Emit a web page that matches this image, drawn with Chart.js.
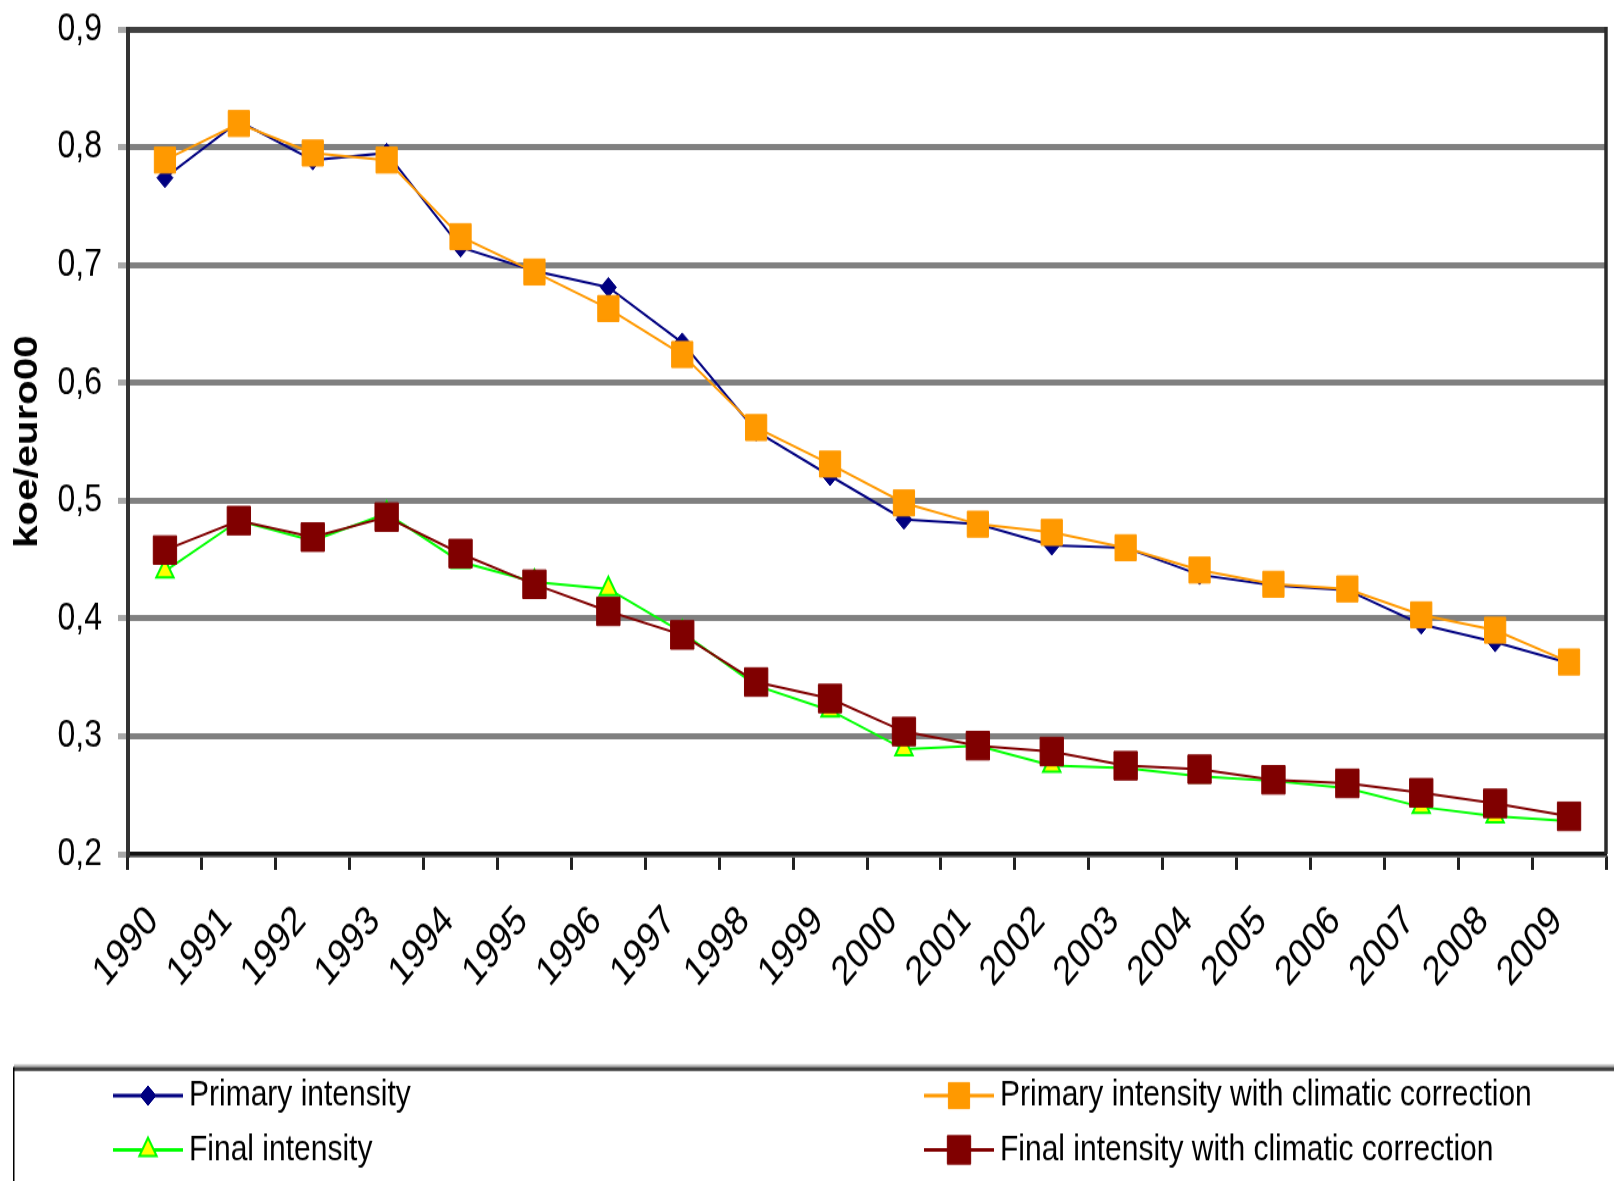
<!DOCTYPE html>
<html lang="en">
<head>
<meta charset="utf-8">
<title>Energy intensity</title>
<script src="https://cdn.jsdelivr.net/npm/chart.js@4/dist/chart.umd.min.js"></script>
<style>
  html, body { margin: 0; padding: 0; background: #fff; overflow: hidden; }
  #chart { display: block; }
</style>
</head>
<body>
<canvas id="chart" width="1614" height="968"></canvas>
<script>
// Dados (koe/euro00)
const anos = ['1990', '1991', '1992', '1993', '1994', '1995', '1996', '1997', '1998', '1999',
              '2000', '2001', '2002', '2003', '2004', '2005', '2006', '2007', '2008', '2009'];

const primaria = [0.774, 0.822, 0.789, 0.795, 0.715, 0.695, 0.681, 0.634, 0.559, 0.521,
                  0.484, 0.480, 0.462, 0.460, 0.437, 0.428, 0.424, 0.395, 0.380, 0.362];

const primariaCorrigida = [0.789, 0.820, 0.795, 0.789, 0.724, 0.694, 0.663, 0.624, 0.562, 0.531,
                           0.498, 0.480, 0.473, 0.460, 0.441, 0.429, 0.425, 0.403, 0.390, 0.363];

const final = [0.440, 0.483, 0.466, 0.489, 0.448, 0.431, 0.425, 0.388, 0.343, 0.322,
               0.289, 0.292, 0.275, 0.273, 0.266, 0.262, 0.256, 0.240, 0.232, 0.228];

const finalCorrigida = [0.458, 0.483, 0.469, 0.486, 0.455, 0.429, 0.406, 0.386, 0.346, 0.332,
                        0.304, 0.292, 0.287, 0.275, 0.272, 0.263, 0.260, 0.252, 0.243, 0.232];

const rotulosY = ['0,2', '0,3', '0,4', '0,5', '0,6', '0,7', '0,8', '0,9'];

const nomes = [
    'Primary intensity',
    'Primary intensity with climatic correction',
    'Final intensity',
    'Final intensity with climatic correction'
];

// O original é esticado na vertical: desenha mais baixo e estica via CSS
const ALTURA_FINAL = 1181;
const fonte = "'Liberation Sans', Arial, sans-serif";

// Moldura da direita + legenda em duas colunas
const molduraLegenda = {
    id: 'molduraLegenda',
    afterDraw(chart) {
        const ctx = chart.ctx;
        const area = chart.chartArea;
        ctx.save();

        // borda direita da área do gráfico
        ctx.strokeStyle = '#2a2a2a';
        ctx.lineWidth = 3.5;
        ctx.beginPath();
        ctx.moveTo(area.right, area.top - 2);
        ctx.lineTo(area.right, area.bottom);
        ctx.stroke();

        // caixa da legenda (só o topo e a esquerda aparecem)
        ctx.fillStyle = '#b8b8b8';
        ctx.fillRect(14, 872.5, 1600, 2);
        ctx.fillStyle = '#404040';
        ctx.fillRect(14, 874.5, 1600, 3.3);
        ctx.fillStyle = '#000';
        ctx.fillRect(13, 874.5, 1.5, 100);

        const itens = [
            { ds: 0, x: 113, y: 898 },
            { ds: 1, x: 924, y: 898 },
            { ds: 2, x: 113, y: 942.5 },
            { ds: 3, x: 924, y: 942.5 }
        ];

        itens.forEach(item => {
            const ds = chart.data.datasets[item.ds];
            ctx.strokeStyle = ds.borderColor;
            ctx.lineWidth = 3;
            ctx.beginPath();
            ctx.moveTo(item.x, item.y);
            ctx.lineTo(item.x + 70, item.y);
            ctx.stroke();

            ctx.fillStyle = ds.pointBackgroundColor;
            ctx.strokeStyle = ds.pointBorderColor;
            ctx.lineWidth = ds.pointBorderWidth;
            Chart.helpers.drawPoint(ctx, {
                pointStyle: ds.pointStyle,
                radius: ds.pointRadius,
                rotation: 0,
                borderWidth: ds.pointBorderWidth
            }, item.x + 35, item.y);

            ctx.fillStyle = '#000';
            ctx.font = '30px ' + fonte;
            ctx.textAlign = 'left';
            ctx.textBaseline = 'middle';
            ctx.fillText(ds.label, item.x + 76, item.y);
        });

        ctx.restore();
    }
};

const canvas = document.getElementById('chart');

new Chart(canvas, {
    type: 'line',
    data: {
        labels: anos,
        datasets: [
            {
                label: nomes[0],
                data: primaria,
                borderColor: '#000080',
                borderWidth: 2,
                pointStyle: 'rectRot',
                pointRadius: 8,
                pointBackgroundColor: '#000080',
                pointBorderColor: '#000080',
                pointBorderWidth: 1,
                order: 4
            },
            {
                label: nomes[1],
                data: primariaCorrigida,
                borderColor: '#FF9900',
                borderWidth: 2,
                pointStyle: 'rect',
                pointRadius: 15,
                pointBackgroundColor: '#FF9900',
                pointBorderColor: '#FF9900',
                pointBorderWidth: 1,
                order: 2
            },
            {
                label: nomes[2],
                data: final,
                borderColor: '#00FF00',
                borderWidth: 2,
                pointStyle: 'triangle',
                pointRadius: 10,
                pointBackgroundColor: '#FFFF00',
                pointBorderColor: '#00FF00',
                pointBorderWidth: 2,
                order: 3
            },
            {
                label: nomes[3],
                data: finalCorrigida,
                borderColor: '#800000',
                borderWidth: 2,
                pointStyle: 'rect',
                pointRadius: 16.5,
                pointBackgroundColor: '#800000',
                pointBorderColor: '#800000',
                pointBorderWidth: 1,
                order: 1
            }
        ]
    },
    options: {
        responsive: false,
        animation: false,
        events: [],
        layout: {
            autoPadding: false,
            padding: { top: 24, right: 8, bottom: 148, left: 0 }
        },
        plugins: {
            legend: { display: false },
            tooltip: { enabled: false }
        },
        scales: {
            x: {
                offset: true,
                afterFit: (scale) => {
                    scale.height = 120;
                    scale.paddingLeft = 0;
                    scale.paddingRight = 0;
                },
                grid: {
                    offset: true,
                    drawOnChartArea: false,
                    tickLength: 13,
                    tickWidth: 3,
                    tickColor: '#222'
                },
                border: { color: '#111', width: 3.5 },
                ticks: {
                    autoSkip: false,
                    minRotation: 45,
                    maxRotation: 45,
                    padding: 22,
                    labelOffset: -12,
                    color: '#000',
                    font: { family: fonte, size: 34 }
                }
            },
            y: {
                min: 0.2,
                max: 0.9,
                afterFit: (scale) => {
                    scale.width = 128;
                    scale.paddingTop = 0;
                    scale.paddingBottom = 0;
                },
                grid: {
                    color: (c) => c.index === rotulosY.length - 1 ? '#404040' : '#808080',
                    lineWidth: 5,
                    tickLength: 10,
                    tickColor: '#a8a8a8'
                },
                border: { color: '#333', width: 4 },
                ticks: {
                    stepSize: 0.1,
                    padding: 16,
                    color: '#000',
                    font: { family: fonte, size: 32 },
                    callback: (valor, i) => rotulosY[i]
                },
                title: {
                    display: true,
                    text: 'koe/euro00',
                    color: '#000',
                    padding: { top: 8, bottom: 0 },
                    font: { family: fonte, size: 33, weight: 'bold' }
                }
            }
        }
    },
    plugins: [molduraLegenda]
});

// estica na vertical como no original
canvas.style.height = ALTURA_FINAL + 'px';
</script>
</body>
</html>
